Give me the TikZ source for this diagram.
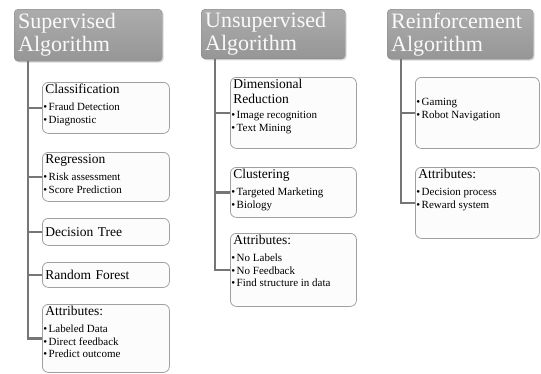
\documentclass[tikz,border=0pt]{standalone}
\usepackage{fontspec}
\setmainfont{Liberation Serif}
\usepackage{xcolor}
\usetikzlibrary{positioning,shadows}
\definecolor{hdrtop}{RGB}{172,172,172}
\definecolor{hdrbot}{RGB}{150,150,150}
\definecolor{hdrline}{RGB}{135,135,135}
\definecolor{leafline}{RGB}{160,160,160}
\definecolor{leaffill}{RGB}{252,252,252}
\definecolor{connline}{RGB}{118,118,118}
\newcommand{\ttl}[1]{{\fontsize{13.5}{15}\selectfont\strut #1\par}\vspace{2.5pt}}
\newcommand{\itm}[1]{{\fontsize{11}{12.5}\selectfont\hspace*{-2pt}\strut•\hspace{1.5pt}#1\par}}
\newcommand{\leafbody}[3]{\parbox[t][#2pt][t]{#1pt}{\vspace*{1pt}#3}}
\tikzset{
  hdr/.style={anchor=north west,rounded corners=4pt,draw=hdrline,top color=hdrtop,bottom color=hdrbot,
    drop shadow={shadow xshift=1.5pt,shadow yshift=-1.5pt,opacity=0.3},text=white!96!gray,
    align=left,inner xsep=4pt,font=\fontsize{22}{23}\selectfont},
  leaf/.style={anchor=north west,rounded corners=6pt,draw=leafline,fill=leaffill,line width=0.8pt,
    inner xsep=3pt,inner ysep=0pt,align=left},
  conn/.style={draw=connline,line width=2.3pt}
}
\begin{document}
\begin{tikzpicture}[x=1pt,y=-1pt]
\useasboundingbox (0,0) rectangle (541,373);
% headers
\node[hdr,minimum width=148pt,minimum height=52pt,text width=140pt] (sup) at (14,9) {Supervised\\Algorithm};
\node[hdr,minimum width=144pt,minimum height=49pt,text width=136pt] (uns) at (201,9) {Unsupervised\\Algorithm};
\node[hdr,minimum width=146pt,minimum height=49pt,text width=138pt,inner xsep=2pt] (rei) at (387,9) {Reinforcement\\Algorithm};
% supervised
\node[leaf] (sup-cls) at (42,82) {\leafbody{121}{51}{\ttl{Classification}\itm{Fraud Detection}\itm{Diagnostic}}};
\node[leaf] (sup-reg) at (42,152) {\leafbody{121}{49}{\ttl{Regression}\itm{Risk assessment}\itm{Score Prediction}}};
\node[leaf,minimum height=27pt,text width=121pt,font=\fontsize{13.5}{15}\selectfont] (sup-dt) at (42,218) {Decision Tree};
\node[leaf,minimum height=25pt,text width=121pt,font=\fontsize{13.5}{15}\selectfont] (sup-rf) at (42,262) {Random Forest};
\node[leaf] (sup-att) at (42,304) {\leafbody{121}{68}{\ttl{Attributes:}\itm{Labeled Data}\itm{Direct feedback}\itm{Predict outcome}}};
% unsupervised
\node[leaf] (uns-dim) at (230,77) {\leafbody{120}{71}{\ttl{Dimensional\\Reduction}\itm{Image recognition}\itm{Text Mining}}};
\node[leaf] (uns-clu) at (230,167) {\leafbody{120}{50}{\ttl{Clustering}\itm{Targeted Marketing}\itm{Biology}}};
\node[leaf] (uns-att) at (230,233) {\leafbody{120}{73}{\ttl{Attributes:}\itm{No Labels}\itm{No Feedback}\itm{Find structure in data}}};
% reinforcement
\node[leaf] (rei-app) at (415,77) {\leafbody{118}{71}{\ttl{}\itm{Gaming}\itm{Robot Navigation}}};
\node[leaf] (rei-att) at (415,167) {\leafbody{118}{71}{\ttl{Attributes:}\itm{Decision process}\itm{Reward system}}};
% connectors
\foreach \c in {sup-cls,sup-reg,sup-dt,sup-rf,sup-att} \draw[conn] ([xshift=14pt]sup.south west) |- (\c.west);
\foreach \c in {uns-dim,uns-clu,uns-att} \draw[conn] ([xshift=14pt]uns.south west) |- (\c.west);
\foreach \c in {rei-app,rei-att} \draw[conn] ([xshift=14pt]rei.south west) |- (\c.west);
\end{tikzpicture}
\end{document}
